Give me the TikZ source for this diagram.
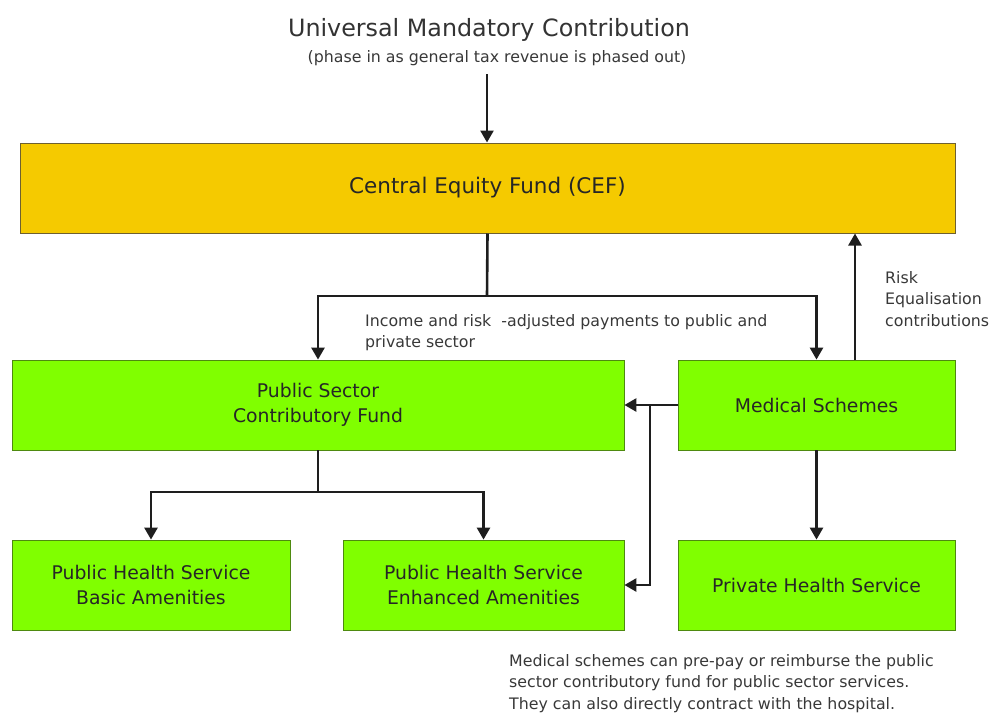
\documentclass[tikz,border=0pt]{standalone}
\usepackage{fontspec}
\setmainfont{DejaVu Sans}
\usetikzlibrary{arrows.meta,calc}
\definecolor{cefgold}{HTML}{F5CA00}
\definecolor{cefedge}{HTML}{6E6030}
\definecolor{boxgreen}{HTML}{80FF00}
\definecolor{greenedge}{HTML}{4E8A10}
\definecolor{linegray}{HTML}{1E1E1E}
\tikzset{
  cefbox/.style={draw=cefedge, line width=1pt, fill=cefgold, minimum width=935pt, minimum height=90pt, inner sep=0pt, font=\fontsize{21.5}{24}\selectfont, text=black!85},
  gbox/.style={draw=greenedge, line width=0.8pt, fill=boxgreen, minimum height=90pt, inner sep=0pt, align=center, font=\fontsize{18.8}{24.5}\selectfont, text=black!85},
  conn/.style={draw=linegray, line width=2.6pt},
  arr/.style={conn, -{Triangle[length=12pt,width=13pt]}},
  smalltxt/.style={inner sep=0pt, align=left, font=\fontsize{15.8}{21.7}\selectfont, text=black!78},
}
\begin{document}
\begin{tikzpicture}[x=1pt,y=-1pt]
\useasboundingbox (0,0) rectangle (990,715);
\node[inner sep=0pt, font=\fontsize{23.8}{26}\selectfont, text=black!80] (title) at (489,30) {Universal Mandatory Contribution};
\node[inner sep=0pt, font=\fontsize{15.8}{18}\selectfont, text=black!78] (sub) at (497,58) {(phase in as general tax revenue is phased out)};
\node[cefbox] (cef) at (487.5,188) {Central Equity Fund (CEF)};
\node[gbox, minimum width=612pt] (pscf) at (318,405) {Public Sector\\Contributory Fund};
\node[gbox, minimum width=277pt] (ms) at (816.5,405) {Medical Schemes};
\node[gbox, minimum width=278pt] (basic) at (151,585) {Public Health Service\\Basic Amenities};
\node[gbox, minimum width=281pt] (enh) at (483.5,585) {Public Health Service\\Enhanced Amenities};
\node[gbox, minimum width=277pt] (priv) at (816.5,585) {Private Health Service};
\coordinate (top) at (487,74);
\coordinate (j1) at (487,296);
\coordinate (j2) at (318,492);
\coordinate (br) at (650,405);
\coordinate (rk) at (855,360);
\draw[arr] (top) -- (top |- cef.north);
\draw[conn] (cef.south) -- (j1);
\draw[arr] (j1) -| (pscf.north);
\draw[arr] (j1) -| (ms.north);
\draw[arr] (rk) -- (rk |- cef.south);
\draw[arr] (ms.west) -- (pscf.east);
\draw[arr] (br) |- (enh.east);
\draw[conn] (pscf.south) -- (j2);
\draw[arr] (j2) -| (basic.north);
\draw[arr] (j2) -| (enh.north);
\draw[arr] (ms.south) -- (priv.north);
\node[smalltxt, anchor=north west] (lab1) at (365,314) {Income and risk \ -adjusted payments to public and\\private sector};
\node[smalltxt, anchor=north west] (lab2) at (885,271) {Risk\\Equalisation\\contributions};
\node[smalltxt, anchor=north west] (note) at (509,654) {Medical schemes can pre-pay or reimburse the public\\sector contributory fund for public sector services.\\They can also directly contract with the hospital.};
\end{tikzpicture}
\end{document}
